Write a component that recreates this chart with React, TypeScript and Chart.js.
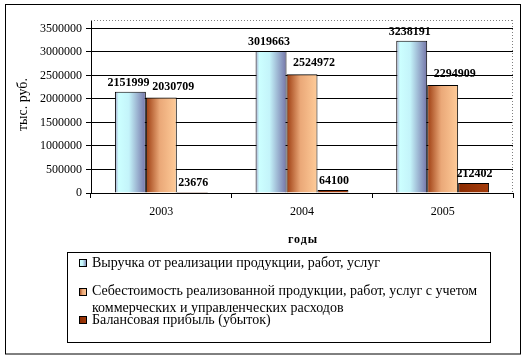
import { useEffect, useRef } from "react";
import { Chart, registerables } from "chart.js";

Chart.register(...registerables);

const years = ["2003", "2004", "2005"];
const revenue = [2151999, 3019663, 3238191];
const cost = [2030709, 2524972, 2294909];
const profit = [23676, 64100, 212402];
const seriesNames = [
  "Выручка от реализации продукции, работ, услуг",
  "Себестоимость реализованной продукции, работ, услуг с учетом коммерческих и управленческих расходов",
  "Балансовая прибыль (убыток)",
];
const legendLines = [
  ["Выручка от реализации продукции, работ, услуг"],
  ["Себестоимость реализованной продукции, работ, услуг с учетом", "коммерческих и управленческих расходов"],
  ["Балансовая прибыль (убыток)"],
];
const yTicks = [0, 500000, 1000000, 1500000, 2000000, 2500000, 3000000, 3500000];
const yMax = 3680000;
const yTitle = "тыс. руб.";
const xTitle = "годы";

const CAT_PCT = 0.66;
const SERIF = "'Liberation Serif', 'Times New Roman', serif";

const gradStops: [number, string][][] = [
  [
    [0, "#a4a4cc"],
    [0.12, "#ccffff"],
    [0.45, "#c4f4fa"],
    [1, "#7474a8"],
  ],
  [
    [0, "#9c3c10"],
    [0.45, "#eaa878"],
    [1, "#ffcc99"],
  ],
  [
    [0, "#8a2a00"],
    [1, "#a53d0c"],
  ],
];
const labelDx = [-2, 12, 1];
const labelDy = [-9, -11, -9];

function barGradient(di: number) {
  const stops = gradStops[di];
  return (ctx: any) => {
    const chart = ctx.chart;
    const xs = chart.scales && chart.scales.x;
    if (!xs || ctx.type !== "data" || !isFinite(xs.width) || xs.width <= 0) return stops[stops.length - 1][1];
    const i = ctx.dataIndex;
    const cx = xs.getPixelForValue(i);
    const catW = xs.width / years.length;
    const bw = (catW * CAT_PCT) / 3;
    const left = cx - 1.5 * bw + di * bw;
    const g = chart.ctx.createLinearGradient(left, 0, left + bw, 0);
    stops.forEach(([o, c]) => g.addColorStop(o, c));
    return g;
  };
}

const decorPlugin = {
  id: "decor",
  beforeDraw(chart: any) {
    const c = chart.ctx;
    c.save();
    c.fillStyle = "#ffffff";
    c.fillRect(0, 0, chart.width, chart.height);
    c.restore();
  },
  beforeDatasetsDraw(chart: any) {
    const c = chart.ctx;
    const a = chart.chartArea;
    c.save();
    c.strokeStyle = "#808080";
    c.lineWidth = 1;
    c.setLineDash([1, 2]);
    c.beginPath();
    c.moveTo(a.left, Math.round(a.top) + 0.5);
    c.lineTo(a.right, Math.round(a.top) + 0.5);
    c.moveTo(Math.round(a.right) - 0.5, a.top);
    c.lineTo(Math.round(a.right) - 0.5, a.bottom);
    c.stroke();
    c.restore();
  },
  afterDraw(chart: any) {
    const c = chart.ctx;
    const a = chart.chartArea;
    c.save();
    // data labels
    c.fillStyle = "#000";
    c.font = `bold 12px ${SERIF}`;
    c.textAlign = "center";
    c.textBaseline = "middle";
    chart.data.datasets.forEach((ds: any, di: number) => {
      const meta = chart.getDatasetMeta(di);
      meta.data.forEach((el: any, i: number) => {
        c.fillText(String(ds.data[i]), el.x + labelDx[di], el.y + labelDy[di]);
      });
    });
    // axis titles
    c.font = `14px ${SERIF}`;
    c.save();
    c.translate(23, (a.top + a.bottom) / 2 - 2);
    c.rotate(-Math.PI / 2);
    c.fillText(yTitle, 0, 0);
    c.restore();
    c.font = `bold 12px ${SERIF}`;
    (c as any).letterSpacing = "1px";
    c.fillText(xTitle, (a.left + a.right) / 2 + 1, 240);
    (c as any).letterSpacing = "0px";
    // legend
    c.strokeStyle = "#000";
    c.lineWidth = 1;
    c.strokeRect(67.5, 252.5, 423, 90);
    c.font = `14px ${SERIF}`;
    c.textAlign = "left";
    legendLines.forEach((lines, k) => {
      const y0 = 263 + k * 28.5;
      const g = c.createLinearGradient(79, 0, 87, 0);
      gradStops[k].forEach(([o, col]) => g.addColorStop(o, col));
      c.fillStyle = g;
      c.fillRect(79.5, Math.round(y0 - 4) + 0.5, 7, 7);
      c.strokeRect(79.5, Math.round(y0 - 4) + 0.5, 7, 7);
      c.fillStyle = "#000";
      lines.forEach((t, j) => c.fillText(t, 92, y0 + j * 16.5));
    });
    // outer frame
    c.strokeRect(5.5, 4.5, 515, 349.5);
    c.restore();
  },
};

export default function App() {
  const ref = useRef<HTMLCanvasElement>(null);
  useEffect(() => {
    if (!ref.current) return;
    const chart = new Chart(ref.current, {
      type: "bar",
      data: {
        labels: years,
        datasets: [revenue, cost, profit].map((d, di) => ({
          label: seriesNames[di],
          data: d,
          backgroundColor: barGradient(di),
          borderColor: "#000",
          borderWidth: 1,
          categoryPercentage: CAT_PCT,
          barPercentage: 1,
        })),
      },
      options: {
        animation: false,
        responsive: false,
        devicePixelRatio: 1,
        layout: { padding: { top: 20, right: 14, left: 0, bottom: 0 } },
        plugins: { legend: { display: false }, tooltip: { enabled: false }, title: { display: false } },
        scales: {
          x: {
            offset: true,
            grid: { display: true, drawOnChartArea: false, drawTicks: true, tickLength: 5, color: "#000", offset: true },
            border: { display: true, color: "#000", width: 1 },
            ticks: { color: "#000", font: { family: SERIF, size: 12 }, padding: 7, maxRotation: 0 },
            afterFit: (s: any) => {
              s.height = 167;
            },
          },
          y: {
            min: 0,
            max: yMax,
            afterBuildTicks: (s: any) => {
              s.ticks = yTicks.map((v) => ({ value: v }));
            },
            grid: { color: "#000", lineWidth: 1, drawTicks: true, tickLength: 5 },
            border: { display: true, color: "#000", width: 1 },
            ticks: {
              color: "#000",
              font: { family: SERIF, size: 12 },
              padding: 4,
              callback: (v: any) => String(v),
            },
            afterFit: (s: any) => {
              s.width = 91;
            },
          },
        },
      },
      plugins: [decorPlugin],
    });
    return () => chart.destroy();
  }, []);
  return (
    <div style={{ position: "fixed", left: 0, top: 0, width: 527, height: 360, background: "#fff" }}>
      <canvas ref={ref} width={527} height={360} style={{ display: "block" }} />
    </div>
  );
}
